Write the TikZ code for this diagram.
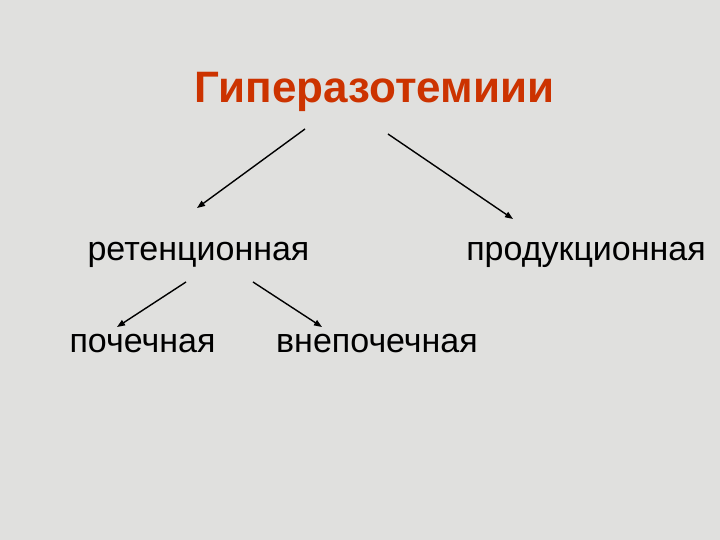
\documentclass[tikz,border=0pt]{standalone}
\usepackage{fontspec}
\setmainfont{Liberation Sans}
\usetikzlibrary{arrows.meta}
\definecolor{slidebg}{RGB}{224,224,222}
\definecolor{titlered}{RGB}{204,51,0}
\tikzset{
  word/.style={anchor=base, inner sep=0pt, font=\fontsize{17}{20}\selectfont},
  arr/.style={line width=0.7pt, -{Triangle[length=4pt,width=3pt]}}
}
\begin{document}
\begin{tikzpicture}[x=0.5pt,y=-0.5pt]
			\fill[slidebg] (0,0) rectangle (720,540);
			\useasboundingbox (0,0) rectangle (720,540);
			\node[anchor=base, inner sep=0pt, text=titlered, font=\fontsize{22}{26}\selectfont\bfseries] (title) at (374.5,103) {Гиперазотемиии};
			\node[word] (ret) at (198.5,261) {ретенционная};
			\node[word] (prod) at (586,261) {продукционная};
			\node[word] (poch) at (142.5,353) {почечная};
			\node[word] (vne) at (377,353) {внепочечная};
			\coordinate (T1) at (305,129);
			\coordinate (T2) at (388,134);
			\coordinate (R1) at (197,208);
			\coordinate (P1) at (513,219);
			\coordinate (S1) at (186,282);
			\coordinate (S2) at (253,282);
			\coordinate (E1) at (117,327);
			\coordinate (E2) at (322,327);
			\draw[arr] (T1) to (R1);
			\draw[arr] (T2) to (P1);
			\draw[arr] (S1) to (E1);
			\draw[arr] (S2) to (E2);
		\end{tikzpicture}
\end{document}
